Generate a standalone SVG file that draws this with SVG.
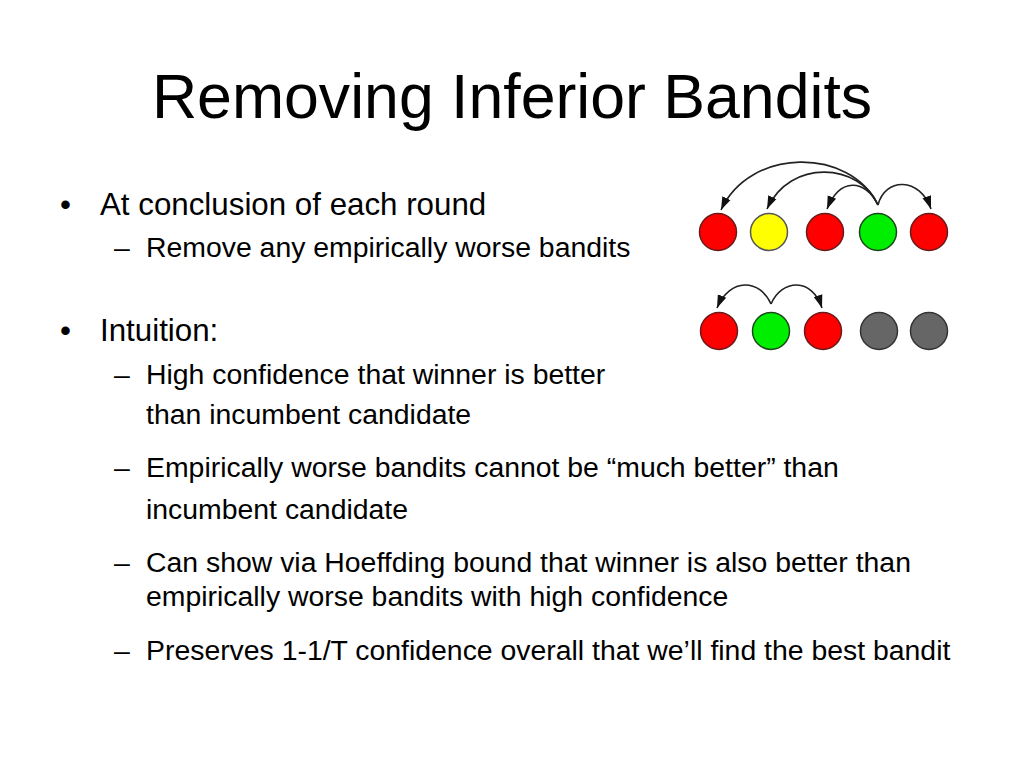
<svg xmlns="http://www.w3.org/2000/svg" width="1024" height="768" viewBox="0 0 1024 768">
<defs>
<style>
text{font-family:"Liberation Sans",Arial,sans-serif;fill:#000}
.t{font-size:62.6px}
.b{font-size:31.3px}
.s{font-size:28.4px}
.red{fill:#f00;stroke:#6a1a1a;stroke-width:1.5}
.yel{fill:#ff0;stroke:#555;stroke-width:1.5}
.grn{fill:#0e0;stroke:#1a4a1a;stroke-width:1.5}
.gry{fill:#666;stroke:#333;stroke-width:1.5}
.arr{fill:none;stroke:#222;stroke-width:1.6;marker-end:url(#ah)}
</style>
<marker id="ah" markerUnits="userSpaceOnUse" markerWidth="14" markerHeight="12" viewBox="0 0 14 12" refX="13" refY="6" orient="auto">
<path d="M0,1.5 L13,6 L0,10.5 z" fill="#111"/>
</marker>
</defs>
<rect width="1024" height="768" fill="#fff"/>
<g id="title"><text class="t" x="512" y="118" text-anchor="middle">Removing Inferior Bandits</text></g>
<g id="bullets">
<text class="b" x="60" y="215">•</text>
<text class="b" x="100" y="215">At conclusion of each round</text>
<text class="s" x="114" y="257">–</text>
<text class="s" x="146" y="257">Remove any empirically worse bandits</text>
<text class="b" x="60" y="341">•</text>
<text class="b" x="100" y="341">Intuition:</text>
<text class="s" x="114" y="384">–</text>
<text class="s" x="146" y="384">High confidence that winner is better</text>
<text class="s" x="146" y="424">than incumbent candidate</text>
<text class="s" x="114" y="477">–</text>
<text class="s" x="146" y="477">Empirically worse bandits cannot be “much better” than</text>
<text class="s" x="146" y="519">incumbent candidate</text>
<text class="s" x="114" y="572">–</text>
<text class="s" x="146" y="572">Can show via Hoeffding bound that winner is also better than</text>
<text class="s" x="146" y="606">empirically worse bandits with high confidence</text>
<text class="s" x="114" y="660">–</text>
<text class="s" x="146" y="660">Preserves 1-1/T confidence overall that we’ll find the best bandit</text>
</g>
<g id="row1">
<circle id="r1a" class="red" cx="718" cy="232" r="18.5"/>
<circle id="r1b" class="yel" cx="769" cy="232" r="18.5"/>
<circle id="r1c" class="red" cx="825" cy="232" r="18.5"/>
<circle id="r1d" class="grn" cx="878" cy="232" r="18.5"/>
<circle id="r1e" class="red" cx="929" cy="232" r="18.5"/>
</g>
<g id="row2">
<circle id="r2a" class="red" cx="719" cy="331" r="18.5"/>
<circle id="r2b" class="grn" cx="771" cy="331" r="18.5"/>
<circle id="r2c" class="red" cx="823" cy="331" r="18.5"/>
<circle id="r2d" class="gry" cx="879" cy="331" r="18.5"/>
<circle id="r2e" class="gry" cx="929" cy="331" r="18.5"/>
</g>
<g id="connectors">
<path class="arr" d="M878,205 C850,147 750,147 721,210"/>
<path class="arr" d="M878,205 C860,163 790,158 767,209"/>
<path class="arr" d="M878,205 C865,179 840,177 827,209"/>
<path class="arr" d="M878,205 C885,177 920,177 931,209"/>
<path class="arr" d="M771,304 C760,279 730,277 717,308"/>
<path class="arr" d="M771,304 C782,279 812,277 822,308"/>
</g>
</svg>
